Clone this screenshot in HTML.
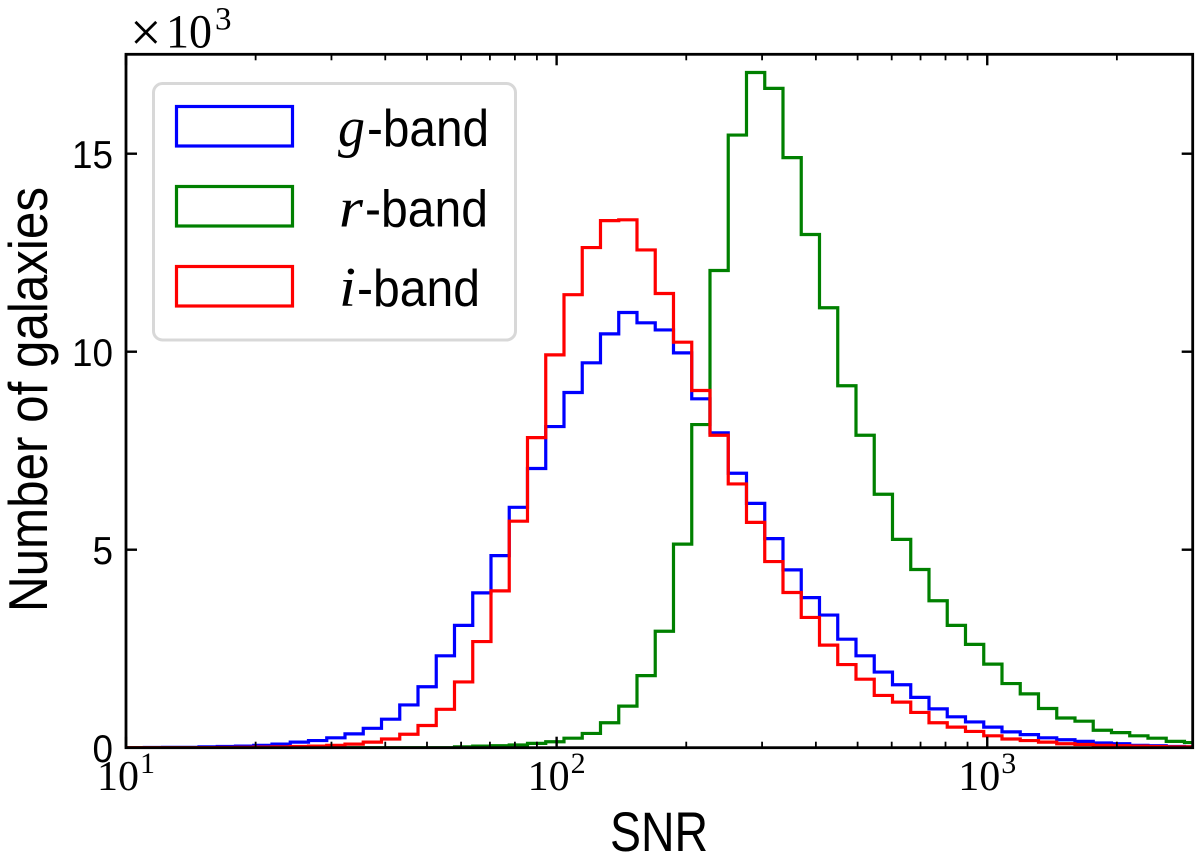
<!DOCTYPE html>
<html lang="en">
<head>
<meta charset="utf-8">
<title>SNR histogram</title>
<style>
  html, body { margin: 0; padding: 0; background: #fff; }
  svg { display: block; }
  text { fill: #000; }
  .sans { font-family: "Liberation Sans", sans-serif; }
  .serif { font-family: "Liberation Serif", serif; }
</style>
</head>
<body>
<svg id="chart" xmlns="http://www.w3.org/2000/svg" width="1200" height="858" viewBox="0 0 1200 858">
  <defs>
    <clipPath id="plot-clip"><rect x="126" y="54.3" width="1066.7" height="693.4"></rect></clipPath>
  </defs>
  <rect x="126" y="54.3" width="1066.7" height="693.4" fill="#fff"></rect>
  <g id="series" clip-path="url(#plot-clip)"></g>
  <g id="ticks"></g>
  <rect x="126" y="54.3" width="1066.7" height="693.4" fill="none" stroke="#000" stroke-width="2.8"></rect>
  <g id="tick-labels"></g>

  <g>
    <text class="serif" x="130" y="51" font-size="56">×</text>
    <text class="serif" x="166" y="47.5" font-size="48" textLength="46" lengthAdjust="spacingAndGlyphs">10</text>
    <text class="serif" x="215" y="29.5" font-size="33">3</text>
  </g>

  <text class="sans" x="610" y="851" font-size="56" textLength="98" lengthAdjust="spacingAndGlyphs">SNR</text>
  <text class="sans" transform="translate(47 612) rotate(-90)" font-size="55" textLength="425" lengthAdjust="spacingAndGlyphs">Number of galaxies</text>

  <g>
    <rect x="153.5" y="83.5" width="362" height="256.5" rx="9" ry="9" fill="#fff" fill-opacity="0.8" stroke="#d8d8d8" stroke-width="3"></rect>

    <rect x="176.5" y="106.5" width="116" height="39.5" fill="none" stroke="#0000ff" stroke-width="3.2"></rect>
    <text class="serif" x="338" y="146" font-size="56" font-style="italic" textLength="27" lengthAdjust="spacingAndGlyphs">g</text>
    <text class="sans" x="367" y="146" font-size="52" textLength="122" lengthAdjust="spacingAndGlyphs">-band</text>

    <rect x="176.5" y="186.5" width="116" height="39.5" fill="none" stroke="#008000" stroke-width="3.2"></rect>
    <text class="serif" x="339" y="226.5" font-size="56" font-style="italic" textLength="24" lengthAdjust="spacingAndGlyphs">r</text>
    <text class="sans" x="365" y="226.5" font-size="52" textLength="123" lengthAdjust="spacingAndGlyphs">-band</text>

    <rect x="176.5" y="266.5" width="116" height="39.5" fill="none" stroke="#ff0000" stroke-width="3.2"></rect>
    <text class="serif" x="339" y="306" font-size="56" font-style="italic" textLength="17" lengthAdjust="spacingAndGlyphs">i</text>
    <text class="sans" x="357" y="306" font-size="52" textLength="123" lengthAdjust="spacingAndGlyphs">-band</text>
  </g>
</svg>

<script>
// Counts per logarithmic SNR bin, in thousands of galaxies.
const gBandCounts = [0.002,0.005,0.01,0.01,0.02,0.03,0.04,0.06,0.09,0.14,0.18,0.25,0.35,0.49,0.72,1.08,1.54,2.32,3.09,3.91,4.85,6.07,7.05,8.11,8.97,9.72,10.45,10.99,10.73,10.55,9.97,8.81,7.95,6.93,6.17,5.28,4.49,3.79,3.35,2.74,2.32,1.91,1.59,1.27,0.98,0.78,0.65,0.52,0.40,0.33,0.25,0.20,0.16,0.12,0.10,0.06,0.05,0.03,0.02];
const rBandCounts = [0,0,0,0,0,0,0,0,0,0,0,0,0,0,0,0,0,0,0.02,0.04,0.05,0.07,0.11,0.15,0.24,0.36,0.63,1.05,1.82,2.94,5.14,8.16,12.05,15.47,17.05,16.65,14.9,12.96,11.11,9.14,7.89,6.4,5.26,4.5,3.71,3.09,2.61,2.11,1.62,1.36,0.99,0.75,0.67,0.44,0.38,0.30,0.24,0.16,0.13];
const iBandCounts = [0,0,0,0,0.002,0.005,0.01,0.015,0.02,0.03,0.04,0.06,0.09,0.14,0.22,0.34,0.56,0.97,1.66,2.68,3.96,5.72,7.83,9.92,11.44,12.63,13.31,13.33,12.57,11.47,10.24,9.02,7.89,6.66,5.69,4.70,3.92,3.29,2.59,2.10,1.73,1.32,1.15,0.89,0.63,0.52,0.41,0.30,0.22,0.18,0.14,0.10,0.08,0.06,0.05,0.04,0.03,0.02,0.02];
const yTickValues = [0, 5, 10, 15];
const yTickLabels = ["0", "5", "10", "15"];
const xMajorTicks = [10, 100, 1000];
const xMajorBases = ["10", "10", "10"];
const xMajorExponents = ["1", "2", "3"];
const xMinorTicks = [20,30,40,50,60,70,80,90,200,300,400,500,600,700,800,900,2000];
const seriesList = [
  { name: "g-band-histogram", color: "#0000ff", counts: gBandCounts },
  { name: "r-band-histogram", color: "#008000", counts: rBandCounts },
  { name: "i-band-histogram", color: "#ff0000", counts: iBandCounts }
];
const firstBinLog = 1;
const binWidthDex = 0.04238;

const NS = "http://www.w3.org/2000/svg";
const plotLeft = 126, plotRight = 1192.7, plotTop = 54.3, plotBottom = 747.7;
const xDomain = [10, 3000];
const yDomainMax = 17.51;

function xScale(v) {
  const a = Math.log10(xDomain[0]), b = Math.log10(xDomain[1]);
  return plotLeft + (Math.log10(v) - a) / (b - a) * (plotRight - plotLeft);
}
function yScale(v) {
  return plotBottom - v / yDomainMax * (plotBottom - plotTop);
}
function binEdge(k) {
  return Math.pow(10, firstBinLog + k * binWidthDex);
}

const seriesGroup = document.getElementById("series");
seriesList.forEach(function (s) {
  let d = "M" + xScale(binEdge(0)).toFixed(2) + "," + yScale(0).toFixed(2);
  s.counts.forEach(function (c, k) {
    const y = yScale(c).toFixed(2);
    d += "L" + xScale(binEdge(k)).toFixed(2) + "," + y;
    d += "L" + xScale(binEdge(k + 1)).toFixed(2) + "," + y;
  });
  d += "L" + xScale(binEdge(s.counts.length)).toFixed(2) + "," + yScale(0).toFixed(2);
  const p = document.createElementNS(NS, "path");
  p.setAttribute("d", d);
  p.setAttribute("fill", "none");
  p.setAttribute("stroke", s.color);
  p.setAttribute("stroke-width", "3.2");
  p.setAttribute("stroke-linejoin", "miter");
  
  
  seriesGroup.appendChild(p);
});

const tickGroup = document.getElementById("ticks");
function addTick(x1, y1, x2, y2, width, name) {
  const l = document.createElementNS(NS, "line");
  l.setAttribute("x1", x1);
  l.setAttribute("y1", y1);
  l.setAttribute("x2", x2);
  l.setAttribute("y2", y2);
  l.setAttribute("stroke", "#000");
  l.setAttribute("stroke-width", width);
  
  
  tickGroup.appendChild(l);
}
yTickValues.forEach(function (v) {
  const y = yScale(v);
  addTick(plotLeft, y, plotLeft + 11, y, 2.4, "y-major-tick-left");
  addTick(plotRight, y, plotRight - 11, y, 2.4, "y-major-tick-right");
});
xMajorTicks.forEach(function (v) {
  const x = xScale(v);
  addTick(x, plotBottom, x, plotBottom - 11, 2.4, "x-major-tick-bottom");
  addTick(x, plotTop, x, plotTop + 11, 2.4, "x-major-tick-top");
});
xMinorTicks.forEach(function (v) {
  const x = xScale(v);
  addTick(x, plotBottom, x, plotBottom - 6, 1.8, "x-minor-tick-bottom");
  addTick(x, plotTop, x, plotTop + 6, 1.8, "x-minor-tick-top");
});

const labelGroup = document.getElementById("tick-labels");
yTickValues.forEach(function (v, i) {
  const t = document.createElementNS(NS, "text");
  const txt = yTickLabels[i];
  t.setAttribute("class", "sans");
  t.setAttribute("x", 113);
  t.setAttribute("y", yScale(v) + 14.5);
  t.setAttribute("font-size", "39");
  t.setAttribute("text-anchor", "end");
  t.setAttribute("textLength", txt.length > 1 ? 41 : 20.5);
  t.setAttribute("lengthAdjust", "spacingAndGlyphs");
  
  
  t.textContent = txt;
  labelGroup.appendChild(t);
});
xMajorTicks.forEach(function (v, i) {
  const x = xScale(v);
  const base = document.createElementNS(NS, "text");
  base.setAttribute("class", "serif");
  base.setAttribute("x", x + 13);
  base.setAttribute("y", 790);
  base.setAttribute("font-size", "42");
  base.setAttribute("text-anchor", "end");
  
  
  base.textContent = xMajorBases[i];
  labelGroup.appendChild(base);
  const exp = document.createElementNS(NS, "text");
  exp.setAttribute("class", "serif");
  exp.setAttribute("x", x + 14);
  exp.setAttribute("y", 773);
  exp.setAttribute("font-size", "30");
  
  
  exp.textContent = xMajorExponents[i];
  labelGroup.appendChild(exp);
});
</script>
</body>
</html>
